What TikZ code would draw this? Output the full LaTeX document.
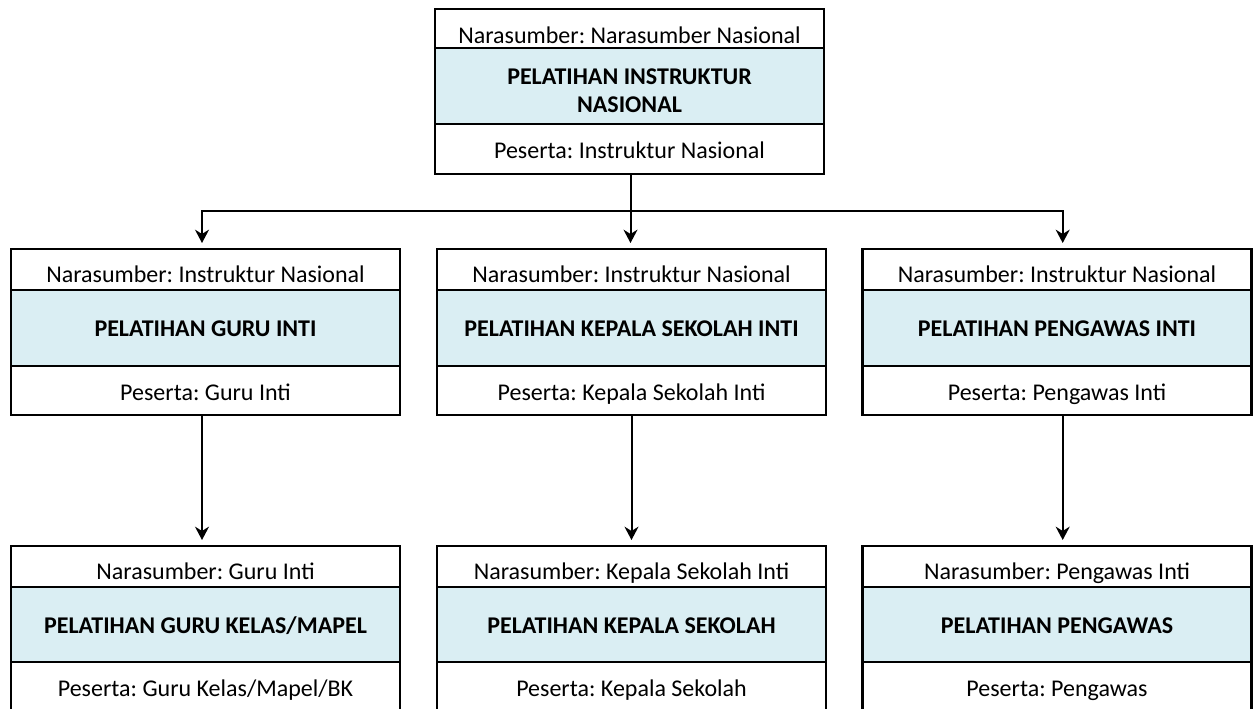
\documentclass[tikz,border=0pt]{standalone}
\usepackage{fontspec}
\setmainfont{Carlito}
\usetikzlibrary{arrows.meta}
\frenchspacing
\newdimen\pxu
\pxu=0.75pt
\definecolor{titlefill}{HTML}{DAEEF3}
\tikzset{
  strip/.style={draw=black, line width=2.2pt, rectangle, inner sep=0pt, outer sep=0pt, minimum width=389\pxu},
  txt/.style={inner sep=0pt, font=\fontsize{18}{20.8}\selectfont},
  titletxt/.style={inner sep=0pt, font=\fontsize{18}{20.8}\selectfont\bfseries, align=center},
  conn/.style={line width=1.5pt},
  arrowconn/.style={conn, -{Stealth[length=10pt, width=10.5pt]}, shorten >=6\pxu},
}
% A training box: speaker strip, shaded title strip, participants strip.
% #1 name, #2 centre x, #3 top y, #4/#5/#6 strip heights,
% #7 speaker text, #8 title, #9 participants text
\newcommand\trainingbox[9]{%
  \node[strip, minimum height=#4\pxu, anchor=north] (#1-n) at (#2,#3) {};
  \node[strip, minimum height=#5\pxu, anchor=north, fill=titlefill] (#1-t) at (#1-n.south) {};
  \node[strip, minimum height=#6\pxu, anchor=north] (#1-p) at (#1-t.south) {};
  \node[txt, anchor=base] (#1-nl) at ([yshift=-33\pxu]#1-n.north) {#7};
  \node[titletxt, anchor=base] (#1-tl) at ([yshift=-46.5\pxu]#1-t.north) {#8};
  \node[txt, anchor=base] (#1-pl) at ([yshift=-34.3\pxu]#1-p.north) {#9};
}
\begin{document}
\begin{tikzpicture}[x=0.75pt, y=-0.75pt]
  \useasboundingbox (0,0) rectangle (1257,708);
  \fill[white] (0,0) rectangle (1257,708);
  \clip (0,0) rectangle (1257,708);

  % national instructor training
  \node[strip, minimum height=39\pxu, anchor=north] (nas-n) at (629.5,9) {};
  \node[strip, minimum height=76\pxu, anchor=north, fill=titlefill] (nas-t) at (nas-n.south) {};
  \node[strip, minimum height=50\pxu, anchor=north] (nas-p) at (nas-t.south) {};
  \node[txt, anchor=base] (nas-nl) at ([yshift=-34.3\pxu]nas-n.north) {Narasumber: Narasumber Nasional};
  \node[titletxt, anchor=center] (nas-tl) at ([yshift=-42.5\pxu]nas-t.north) {PELATIHAN INSTRUKTUR\\NASIONAL};
  \node[txt, anchor=base] (nas-pl) at ([yshift=-34.3\pxu]nas-p.north) {Peserta: Instruktur Nasional};

  % core trainings
  \trainingbox{guruinti}{205.5}{249}{41}{76}{49}{Narasumber: Instruktur Nasional}{PELATIHAN GURU INTI}{Peserta: Guru Inti}
  \trainingbox{ksinti}{631.5}{249}{41}{76}{49}{Narasumber: Instruktur Nasional}{PELATIHAN KEPALA SEKOLAH INTI}{Peserta: Kepala Sekolah Inti}
  \trainingbox{pwinti}{1057}{249}{41}{76}{49}{Narasumber: Instruktur Nasional}{PELATIHAN PENGAWAS INTI}{Peserta: Pengawas Inti}

  % final trainings
  \trainingbox{guru}{205.5}{546}{41}{75}{52}{Narasumber: Guru Inti}{PELATIHAN GURU KELAS/MAPEL}{Peserta: Guru Kelas/Mapel/BK}
  \trainingbox{ks}{631.5}{546}{41}{75}{52}{Narasumber: Kepala Sekolah Inti}{PELATIHAN KEPALA SEKOLAH}{Peserta: Kepala Sekolah}
  \trainingbox{pw}{1057}{546}{41}{75}{52}{Narasumber: Pengawas Inti}{PELATIHAN PENGAWAS}{Peserta: Pengawas}

  % connectors
  \coordinate (split) at ([xshift=\pxu, yshift=-37\pxu]nas-p.south);
  \draw[conn] ([xshift=\pxu]nas-p.south) -- (split);
  \draw[arrowconn] (split) -| ([xshift=-3.5\pxu]guruinti-n.north);
  \draw[arrowconn] (split) -- (split |- ksinti-n.north);
  \draw[arrowconn] (split) -| ([xshift=5.7\pxu]pwinti-n.north);

  \draw[arrowconn] ([xshift=-3.5\pxu]guruinti-p.south) -- ([xshift=-3.5\pxu]guru-n.north);
  \draw[arrowconn] (ksinti-p.south) -- (ks-n.north);
  \draw[arrowconn] ([xshift=5.7\pxu]pwinti-p.south) -- ([xshift=5.7\pxu]pw-n.north);
\end{tikzpicture}
\end{document}
